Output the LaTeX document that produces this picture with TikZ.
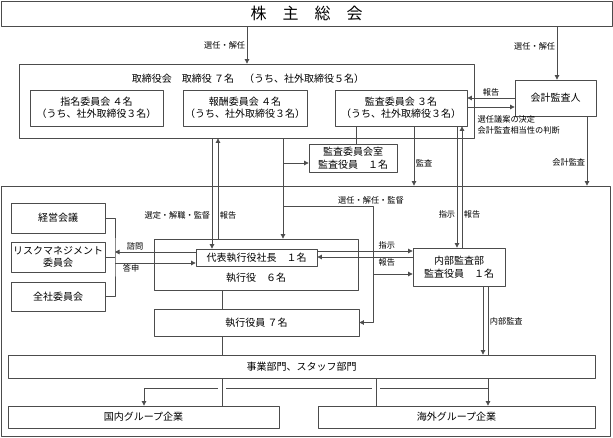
\documentclass[tikz,border=0pt]{standalone}
\usepackage{fontspec}
\setmainfont{Noto Sans CJK JP}
\usetikzlibrary{arrows.meta}
\definecolor{linec}{gray}{0.3}
\begin{document}
\begin{tikzpicture}[x=1pt, y=-1pt, line join=round, >={Triangle[length=4.5pt,width=4.5pt]},
    box/.style={draw=linec, fill=white, line width=.8pt, inner sep=0pt, align=center, font=\fontsize{10}{12.5}\selectfont},
    lbl/.style={font=\fontsize{8.2}{11}\selectfont, inner sep=1.5pt},
    conn/.style={draw=linec, line width=.7pt},
    hop/.style={preaction={draw=white, line width=8pt, shorten <=1.5pt, shorten >=1.5pt}}]
\useasboundingbox (0,0) rectangle (613,438);
% boxes
\node[box, minimum width=611pt, minimum height=25pt, font=\fontsize{16}{18}\selectfont] (agm) at (306.5,13.5) {株　主　総　会};
\node[box, minimum width=455pt, minimum height=74pt] (board) at (246.5,101) {};
\node[font=\fontsize{10}{12}\selectfont, inner sep=0pt] (boardtitle) at (248,79) {取締役会　取締役 ７名　（うち、社外取締役５名）};
\node[box, minimum width=133pt, minimum height=36pt] (nom) at (96.5,108) {指名委員会 ４名\\（うち、社外取締役３名）};
\node[box, minimum width=124pt, minimum height=36pt] (rem) at (245,108) {報酬委員会 ４名\\（うち、社外取締役３名）};
\node[box, minimum width=132pt, minimum height=36pt] (audc) at (401,108) {監査委員会 ３名\\（うち、社外取締役３名）};
\node[box, minimum width=81pt, minimum height=36pt] (auditor) at (555.5,98) {会計監査人};
\node[box, minimum width=88pt, minimum height=28pt] (audroom) at (353,158) {監査委員会室\\監査役員　１名};
\node[box, fill=none, minimum width=609pt, minimum height=250pt] (exec) at (305.5,311) {};
\node[box, minimum width=94pt, minimum height=30pt] (mgmt) at (58,218) {経営会議};
\node[box, minimum width=94pt, minimum height=30pt] (risk) at (58,257) {リスクマネジメント\\委員会};
\node[box, minimum width=94pt, minimum height=29pt] (allco) at (58,296.5) {全社委員会};
\node[box, minimum width=204pt, minimum height=51pt] (officers) at (256,264.5) {};
\node[box, minimum width=121pt, minimum height=17pt] (ceo) at (256.5,257.5) {代表執行役社長　１名};
\node[font=\fontsize{10}{12}\selectfont, inner sep=0pt] (offtext) at (256,278) {執行役　６名};
\node[box, minimum width=205pt, minimum height=27pt] (execof) at (256.5,322.5) {執行役員 ７名};
\node[box, minimum width=92pt, minimum height=38pt] (ia) at (459,267) {内部監査部\\監査役員　１名};
\node[box, minimum width=587pt, minimum height=23pt] (biz) at (301.5,366.5) {事業部門、スタッフ部門};
\node[box, minimum width=271pt, minimum height=22pt] (dom) at (143.5,417) {国内グループ企業};
\node[box, minimum width=277pt, minimum height=22pt] (ovs) at (456.5,417) {海外グループ企業};
% shareholders and board
\draw[conn,->] (agm.south -| 247,0) -- node[lbl,left]{選任・解任} (board.north -| 247,0);
\draw[conn,->] (agm.south -| 557,0) -- node[lbl,left,pos=.37]{選任・解任} (auditor.north -| 557,0);
\draw[conn,->] (auditor.west |- 0,98) -- node[lbl,above]{報告} (audc.east |- 0,98);
\draw[conn,->] (audc.east |- 0,107) -- (auditor.west |- 0,107);
\node[lbl, anchor=north west, align=left] (elect) at (476,114) {選任議案の決定\\会計監査相当性の判断};
\draw[conn,->] (auditor.south -| 587,0) -- node[lbl,left,pos=.67]{会計監査} (exec.north -| 587,0);
\draw[conn] (audc.south -| 356,0) -- (audroom.north -| 356,0);
\draw[conn,->] (audc.south -| 414,0) -- node[lbl,right,pos=.62]{監査} (exec.north -| 414,0);
\draw[conn,->] (audc.south -| 457,0) -- node[lbl,left,pos=.73]{指示} (ia.north -| 457,0);
\draw[conn,->] (ia.north -| 462,0) -- node[lbl,right,pos=.27]{報告} (audc.south -| 462,0);
% board and officers
\coordinate (j1) at (283,163);
\coordinate (j2) at (283,206);
\coordinate (j3) at (373,206);
\coordinate (j4) at (373,274);
\draw[conn,->] (board.south -| 212,0) -- node[lbl,left,pos=.7]{選定・解職・監督} (ceo.north -| 212,0);
\draw[conn,->] (officers.north -| 218,0) -- node[lbl,right,pos=.23]{報告} (board.south -| 218,0);
\draw[conn,->] (board.south -| j1) -- (officers.north -| j1);
\draw[conn,->] (j1) -- (audroom.west |- j1);
\draw[conn,->] (j2) -- (j3) node[lbl,above,xshift=-2pt]{選任・解任・監督} -- (j3 |- execof.east) -- (execof.east);
\draw[conn,->] (j4) -- (ia.west |- j4);
\draw[conn,->] (ceo.east |- 0,251) -- node[lbl,above,pos=.73]{指示} (ia.west |- 0,251);
\draw[conn,->] (ia.west |- 0,257) -- node[lbl,below,pos=.27]{報告} (ceo.east |- 0,257);
% committees
\coordinate (br) at (115,257);
\draw[conn] (mgmt.east) -| (br) |- (allco.east);
\draw[conn] (risk.east) -- (br);
\draw[conn,->] (ceo.west |- 0,252) -- node[lbl,above,pos=.75]{諮問} (br |- 0,252);
\draw[conn,->] (br |- 0,263) -- node[lbl,below,pos=.2]{答申} (ceo.west |- 0,263);
% departments and group companies
\draw[conn] (officers.south -| 222,0) -- (execof.north -| 222,0);
\draw[conn] (execof.south -| 222,0) -- (biz.north -| 222,0);
\draw[conn,->] (ia.south -| 483,0) -- (biz.north -| 483,0);
\draw[conn] (ia.south -| 488,0) -- node[lbl,right,pos=.52]{内部監査} (biz.north -| 488,0);
\coordinate (g) at (488,388);
\draw[conn,->] (biz.south -| g) -- (g) -| (dom.north -| 144,0);
\draw[conn,->] (g) -- (ovs.north -| g);
\draw[conn,hop] (biz.south -| 222,0) -- (dom.north -| 222,0);
\draw[conn,hop] (biz.south -| 376,0) -- (ovs.north -| 376,0);
\end{tikzpicture}
\end{document}
